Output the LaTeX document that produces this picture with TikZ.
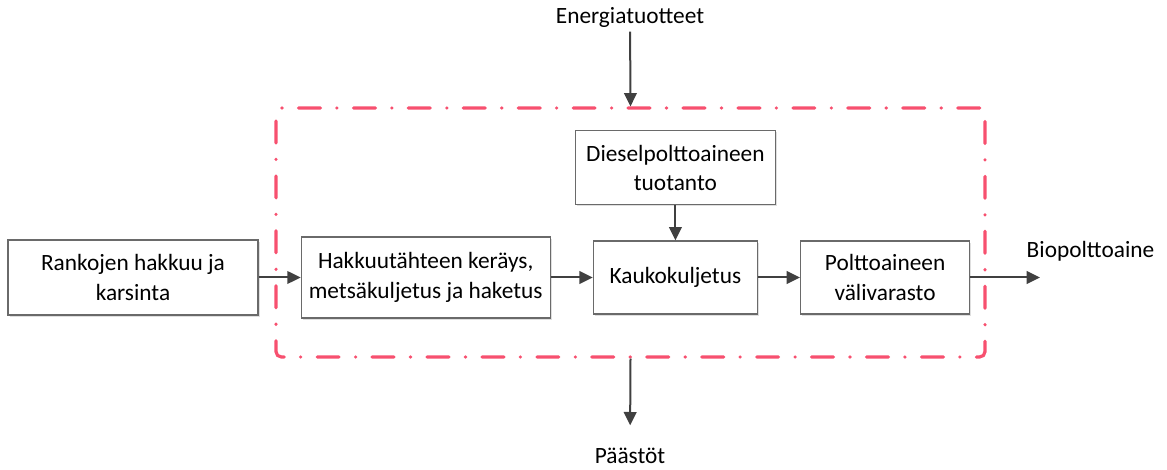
\documentclass[tikz,border=0pt]{standalone}
\usepackage{fontspec}
\setmainfont{Carlito}
\usetikzlibrary{positioning,arrows.meta,shadows}

\definecolor{boxgray}{HTML}{6A6A6A}
\definecolor{arrowgray}{HTML}{404040}
\definecolor{limitred}{HTML}{F7506F}

\begin{document}
\begin{tikzpicture}[
      x=0.75pt, y=-0.75pt,
      node distance=31.5pt,
      font=\fontsize{17.5}{22}\selectfont,
      box/.style={draw=boxgray, line width=0.9pt, fill=white, align=center, inner sep=2pt,
        drop shadow={shadow xshift=1.2pt, shadow yshift=-1.2pt, fill=black!25, opacity=0.5}},
      flow/.style={-{Triangle[length=10pt, width=9.5pt]}, line width=1.5pt, draw=arrowgray},
      limit/.style={draw=limitred, line width=2.4pt, line cap=round, rounded corners=4pt,
        dash pattern=on 16.5pt off 12.2pt on 0.3pt off 12.2pt}
    ]
    \useasboundingbox (0,0) rectangle (1167,470);

    % Process steps
    \node[box, minimum width=187.5pt, minimum height=56.25pt] (hakkuu) at (133,277.5) {Rankojen hakkuu ja\\karsinta};
    \node[box, right=of hakkuu, minimum width=186.75pt, minimum height=60.75pt] (keruu) {Hakkuutähteen keräys,\\metsäkuljetus ja haketus};
    \node[box, right=of keruu, minimum width=123pt, minimum height=54.75pt] (kauko) {Kaukokuljetus};
    \node[box, right=of kauko, minimum width=126.75pt, minimum height=54.75pt] (varasto) {Polttoaineen\\välivarasto};
    \node[box, above=26.25pt of kauko, minimum width=150pt, minimum height=55.5pt] (diesel) {Dieselpolttoaineen\\tuotanto};

    % System boundary
    \node[limit, minimum width=531.75pt, minimum height=186.75pt] (raja) at (630.5,232.5) {};

    % Inputs and outputs
    \node (energia) at (630,17) {Energiatuotteet};
    \node[anchor=north, inner sep=0pt] (paastot) at (630,448) {Päästöt};
    \node[anchor=west] (bio) at (1022,251) {Biopolttoaine};
    \coordinate (ulos) at (1040,277.5);

    % Flows
    \draw[flow] (hakkuu) -- (keruu);
    \draw[flow] (keruu) -- (kauko);
    \draw[flow] (kauko) -- (varasto);
    \draw[flow] (diesel) -- (kauko);
    \draw[flow] (varasto.east) -- (ulos);
    \draw[flow] (energia) -- (raja.north);
    \draw[flow, shorten >=17pt] (raja.south) -- (paastot.north);
  \end{tikzpicture}
\end{document}
